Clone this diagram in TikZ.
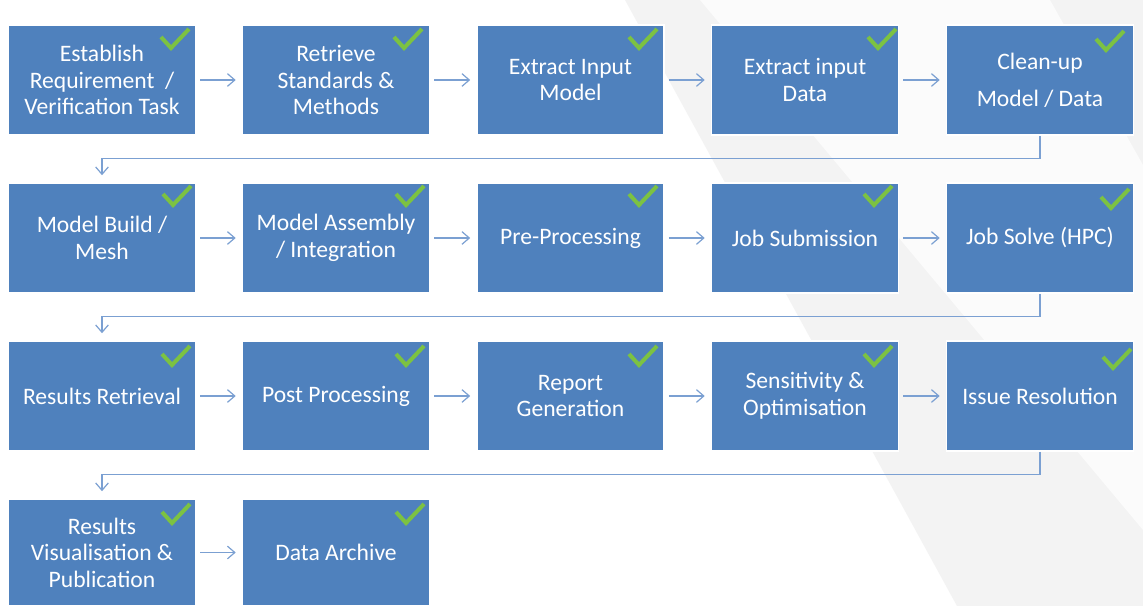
\documentclass[tikz,border=0pt]{standalone}
\usepackage{fontspec}
\setmainfont{Carlito}
\usetikzlibrary{arrows.meta,calc}
\definecolor{boxblue}{HTML}{4F81BD}
\definecolor{conncol}{HTML}{7BA0D2}
\definecolor{checkgreen}{HTML}{7CC242}
\definecolor{bggray}{HTML}{F3F3F3}
\definecolor{bgband}{HTML}{FBFBFB}
\begin{document}
\begin{tikzpicture}[x=0.75pt,y=-0.75pt,
  stepbox/.style={draw=white,line width=1.2pt,fill=boxblue,minimum width=140.25pt,
    minimum height=82.5pt,inner sep=0pt,text=white,align=center,
    font=\fontsize{17.7}{19.9}\selectfont},
  lastbox/.style={stepbox,minimum height=80.25pt},
  flow/.style={draw=conncol,line width=0.9pt,-{Straight Barb[length=5.5pt,width=9.5pt]}},
  hflow/.style={flow,shorten <=3pt,shorten >=4.5pt},
  wrapflow/.style={flow,shorten >=5.25pt},
  tick/.style={draw=checkgreen,line width=3pt},
  tickpic/.pic={\draw[tick] (-14,-1) -- (-4,10) -- (14,-9);}]
% background
\fill[white] (0,0) rectangle (1143,606);
\useasboundingbox (0,0) rectangle (1143,606);
\fill[bggray] (625,0) -- (1143,0) -- (1143,606) -- (957,606) -- cycle;
\fill[bgband] (700,0) -- (1050,0) -- (1143,165) -- (1143,530) -- cycle;
% row 1
\node[stepbox] (a1) at (102,80) {Establish\\Requirement\ \ /\\Verification Task};
\node[stepbox] (a2) at (336,80) {Retrieve\\Standards \&\\Methods};
\node[stepbox] (a3) at (570.5,80) {Extract Input\\Model};
\node[stepbox] (a4) at (805,80) {Extract input\\Data};
\node[stepbox] (a5) at (1040,80) {Clean-up\\[8pt]Model / Data};
% row 2
\node[stepbox] (b1) at (102,238) {Model Build /\\Mesh};
\node[stepbox] (b2) at (336,238) {Model Assembly\\/ Integration};
\node[stepbox] (b3) at (570.5,238) {Pre-Processing};
\node[stepbox] (b4) at (805,238) {Job Submission};
\node[stepbox] (b5) at (1040,238) {Job Solve (HPC)};
% row 3
\node[stepbox] (c1) at (102,396) {Results Retrieval};
\node[stepbox] (c2) at (336,396) {Post Processing};
\node[stepbox] (c3) at (570.5,396) {Report\\Generation};
\node[stepbox] (c4) at (805,396) {Sensitivity \&\\Optimisation};
\node[stepbox] (c5) at (1040,396) {Issue Resolution};
% row 4
\node[lastbox] (d1) at (102,552.5) {Results\\Visualisation \&\\Publication};
\node[lastbox] (d2) at (336,552.5) {Data Archive};
% ticks
\foreach \p in {(175,38),(408,38),(643,38),(882,38),(1110,40),
                (177,195),(410,195),(643,195),(878,195),(1115,198),
                (176,355),(410,355),(643,355),(878,355),(1117,358),
                (176,513),(410,513)}
  \pic at \p {tickpic};
% horizontal connectors
\foreach \r/\n in {a/5,b/5,c/5,d/2}{
  \foreach \i [evaluate=\i as \j using int(\i+1)] in {1,...,4}{
    \ifnum\i<\n
      \draw[hflow] (\r\i.east) -- (\r\j.west);
    \fi
  }
}
% wrap connectors
\draw[wrapflow] (a5.south) |- ($(b1.north)+(0,-24)$) -- (b1.north);
\draw[wrapflow] (b5.south) |- ($(c1.north)+(0,-24)$) -- (c1.north);
\draw[wrapflow] (c5.south) |- ($(d1.north)+(0,-24)$) -- (d1.north);
\end{tikzpicture}
\end{document}
